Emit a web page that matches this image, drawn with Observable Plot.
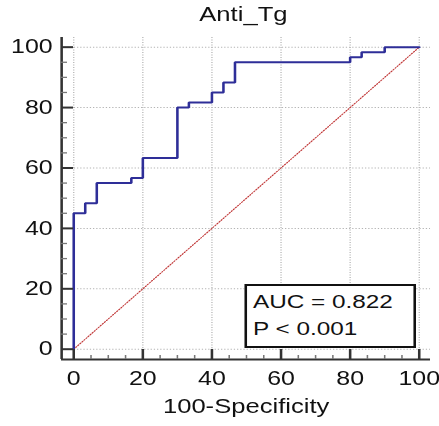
<!DOCTYPE html>
<html><head><meta charset="utf-8">
<script src="https://cdn.jsdelivr.net/npm/d3@7"></script>
<script src="https://cdn.jsdelivr.net/npm/@observablehq/plot@0.6"></script>
<style>
html,body{margin:0;padding:0;background:#fff;}
#wrap{position:relative;width:343px;height:426px;transform:scaleX(1.28);transform-origin:0 0;font-family:"Liberation Sans",Arial,sans-serif;color:#111;overflow:hidden;}
#title{position:absolute;left:47.66px;width:285px;top:4px;text-align:center;font-size:20px;line-height:20px;}
#chart{position:absolute;left:0;top:37px;}
#legend{position:absolute;left:190.6px;top:284px;width:134.9px;height:64px;box-sizing:border-box;border:2px solid #111;background:#fff;padding:2px 0 0 5px;font-size:19px;line-height:27px;white-space:nowrap;}
</style></head><body>
<div id="wrap"><div id="title"></div><div id="chart"></div><div id="legend"></div></div>
<script>
const title = "Anti_Tg";
const xLabel = "100-Specificity";
const legendLines = ["AUC = 0.822", "P < 0.001"];
const fpr = [0, 0, 3.33, 6.67, 16.67, 20, 30, 33.33, 40, 43.33, 46.67, 80, 83.33, 90, 100];
const tpr = [0, 45, 48.33, 55, 56.67, 63.33, 80, 81.67, 85, 88.33, 95, 96.67, 98.33, 100, 100];
const diagX = [0, 100];
const diagY = [0, 100];
const majorTicks = [0, 20, 40, 60, 80, 100];
const minorTicks = [5, 10, 15, 25, 30, 35, 45, 50, 55, 65, 70, 75, 85, 90, 95];
const xDomain = [-3.5, 103.3];
const yDomain = [-3.41, 103.2];

document.getElementById("title").textContent = title;
const leg = document.getElementById("legend");
legendLines.forEach(t => { const d = document.createElement("div"); d.textContent = t; leg.appendChild(d); });

const roc = fpr.map((x, i) => ({x, y: tpr[i]}));
const diag = diagX.map((x, i) => ({x, y: diagY[i]}));
const gridStyle = {stroke: "#b4b4b4", strokeOpacity: 1, strokeDasharray: "1,1.5", strokeWidth: 1};

const plot = Plot.plot({
  width: 343, height: 389,
  marginTop: 0, marginLeft: 47.66, marginRight: 7.06, marginBottom: 67,
  x: {domain: xDomain, label: null},
  y: {domain: yDomain, label: null},
  style: {fontFamily: "'Liberation Sans', Arial, sans-serif", fontSize: "19.5px", background: "white", color: "#111"},
  marks: [
    Plot.gridX(majorTicks, gridStyle),
    Plot.gridY(majorTicks, gridStyle),
    Plot.line(diag, {x: "x", y: "y", stroke: "#c03535", strokeWidth: 1, strokeDasharray: "1,1.4"}),
    Plot.line(roc, {x: "x", y: "y", curve: "step-after", stroke: "#2e2e98", strokeWidth: 2, strokeLinejoin: "miter"}),
    Plot.ruleX([xDomain[0]], {stroke: "#333", strokeWidth: 2}),
    Plot.ruleY([yDomain[0]], {stroke: "#333", strokeWidth: 2.2}),
    Plot.axisX(minorTicks, {tickSize: 4, dy: -4, stroke: "#777", strokeWidth: 1.2, fill: "none", label: null}),
    Plot.axisX(majorTicks, {tickSize: 10, dy: -10, stroke: "#333", strokeWidth: 2, fill: "none", label: null}),
    Plot.axisY(minorTicks, {tickSize: 4.7, dx: 4.7, stroke: "#777", strokeWidth: 1.3, fill: "none", label: null}),
    Plot.axisY(majorTicks, {tickSize: 9.4, dx: 9.4, stroke: "#333", strokeWidth: 2, fill: "none", label: null}),
    Plot.axisX(majorTicks, {tickSize: 0, tickPadding: 11.5, fontSize: 19.5, fill: "#111", stroke: "none", label: null}),
    Plot.axisY(majorTicks, {tickSize: 0, tickPadding: 7, fontSize: 19.5, fill: "#111", stroke: "none", label: null}),
    Plot.text([xLabel], {frameAnchor: "bottom", dy: 53, text: d => d, fontSize: 20, fill: "#111"})
  ]
});
document.getElementById("chart").appendChild(plot);
</script>
</body></html>
